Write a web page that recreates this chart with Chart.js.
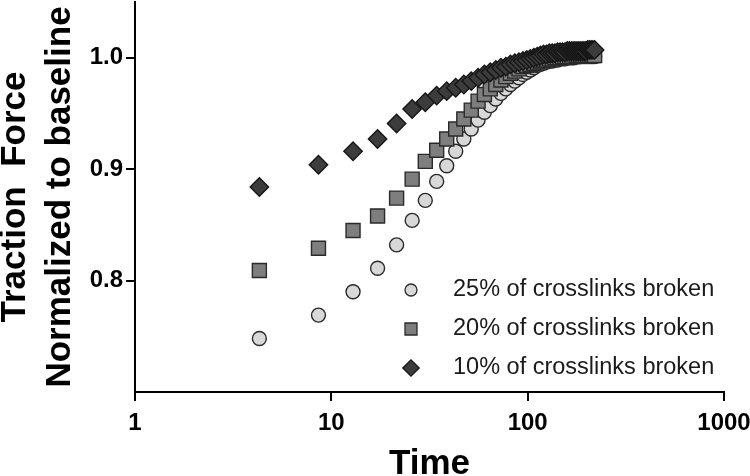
<!DOCTYPE html>
<html>
<head>
<meta charset="utf-8">
<script src="https://cdn.jsdelivr.net/npm/chart.js@4/dist/chart.umd.min.js"></script>
<style>
  html, body { margin: 0; padding: 0; background: #ffffff; }
  #wrap { width: 750px; height: 476px; position: relative; }
</style>
</head>
<body>
<div id="wrap"><canvas id="c" width="750" height="476"></canvas></div>
<script>
// ---- data ----
const timeValues = [4.3, 8.6, 12.9, 17.2, 21.5, 25.8, 30.1, 34.4, 38.7, 43.0,
  47.3, 51.6, 55.9, 60.2, 64.5, 68.8, 73.1, 77.4, 81.7, 86.0,
  90.3, 94.6, 98.9, 103.2, 107.5, 111.8, 116.1, 120.4, 124.7, 129.0,
  133.3, 137.6, 141.9, 146.2, 150.5, 154.8, 159.1, 163.4, 167.7, 172.0,
  176.3, 180.6, 184.9, 189.2, 193.5, 197.8, 202.1, 206.4, 210.7, 215.0, 219.3];

const broken25 = [0.748, 0.769, 0.790, 0.811, 0.832, 0.854, 0.872, 0.889, 0.903, 0.916,
  0.927, 0.936, 0.944, 0.951, 0.957, 0.963, 0.968, 0.972, 0.976, 0.979,
  0.982, 0.985, 0.987, 0.989, 0.991, 0.993, 0.994, 0.995, 0.996, 0.997,
  0.997, 0.998, 0.998, 0.999, 0.999, 0.999, 1.000, 1.000, 1.000, 1.000,
  1.001, 1.001, 1.001, 1.001, 1.001, 1.001, 1.001, 1.001, 1.001, 1.001, 1.001];

const broken20 = [0.809, 0.829, 0.845, 0.858, 0.874, 0.891, 0.907, 0.917, 0.927, 0.936,
  0.945, 0.953, 0.961, 0.967, 0.972, 0.976, 0.980, 0.983, 0.986, 0.988,
  0.990, 0.992, 0.993, 0.994, 0.995, 0.996, 0.997, 0.998, 0.998, 0.999,
  0.999, 1.000, 1.000, 1.000, 1.001, 1.001, 1.001, 1.001, 1.001, 1.001,
  1.002, 1.002, 1.002, 1.002, 1.002, 1.002, 1.002, 1.002, 1.002, 1.002, 1.002];

const broken10 = [0.884, 0.904, 0.916, 0.927, 0.941, 0.954, 0.960, 0.966, 0.970, 0.973,
  0.976, 0.979, 0.982, 0.985, 0.987, 0.989, 0.991, 0.992, 0.994, 0.995,
  0.996, 0.997, 0.998, 0.999, 1.000, 1.001, 1.002, 1.003, 1.003, 1.004,
  1.004, 1.004, 1.005, 1.005, 1.005, 1.005, 1.006, 1.006, 1.006, 1.006,
  1.006, 1.006, 1.006, 1.006, 1.006, 1.006, 1.007, 1.007, 1.007, 1.007, 1.007];

const seriesLabels = ['25% of crosslinks broken', '20% of crosslinks broken', '10% of crosslinks broken'];
const xTickValues = [1, 10, 100, 1000];
const yTickValues = [0.8, 0.9, 1.0];
const yTitleLines = ['Traction  Force', 'Normalized to baseline'];
const xTitle = 'Time';

// ---- build chart ----
const FONT = "'Liberation Sans', Arial, Helvetica, sans-serif";
function pts(ys) { return ys.map((y, i) => ({ x: timeValues[i], y: y })); }

const datasets = [
  { label: seriesLabels[0], data: pts(broken25), pointStyle: 'circle', pointRadius: 7,
    backgroundColor: '#d8d8d8', borderColor: '#2a2a2a', borderWidth: 1.4, order: 3 },
  { label: seriesLabels[1], data: pts(broken20), pointStyle: 'rect', pointRadius: 9.9,
    backgroundColor: '#7e7e7e', borderColor: '#2a2a2a', borderWidth: 1.4, order: 2 },
  { label: seriesLabels[2], data: pts(broken10), pointStyle: 'rectRot', pointRadius: 9.2,
    backgroundColor: '#3c3c3c', borderColor: '#161616', borderWidth: 1.4, order: 1 }
];
datasets.forEach(d => { d.pointHoverRadius = d.pointRadius; d.showLine = false; });

const legendSizes = [6, 8.5, 8.2];

const legendPlugin = {
  id: 'insideLegend',
  afterDraw(chart) {
    const ctx = chart.ctx;
    const rowY = [290, 329, 368];
    const mx = 411, tx = 453;
    chart.data.datasets.forEach((ds, i) => {
      ctx.save();
      ctx.fillStyle = ds.backgroundColor;
      ctx.strokeStyle = ds.borderColor;
      ctx.lineWidth = 1.3;
      Chart.helpers.drawPoint(ctx, { pointStyle: ds.pointStyle, radius: legendSizes[i], rotation: 0, borderWidth: 1.3 }, mx, rowY[i]);
      ctx.fillStyle = '#1a1a1a';
      ctx.font = '23.5px ' + FONT;
      ctx.textAlign = 'left';
      ctx.textBaseline = 'middle';
      ctx.fillText(ds.label, tx, rowY[i]);
      ctx.restore();
    });
  }
};

new Chart(document.getElementById('c'), {
  type: 'scatter',
  data: { datasets: datasets },
  plugins: [legendPlugin],
  options: {
    responsive: false,
    animation: false,
    events: [],
    layout: { autoPadding: false, padding: { left: 0, right: 26, top: 2, bottom: 0 } },
    plugins: { legend: { display: false }, tooltip: { enabled: false } },
    scales: {
      x: {
        type: 'logarithmic',
        min: 1, max: 1000,
        afterBuildTicks(scale) { scale.ticks = xTickValues.map(v => ({ value: v })); },
        afterFit(scale) { scale.height = 84; scale.paddingLeft = 0; scale.paddingRight = 0; },
        ticks: {
          autoSkip: false, maxRotation: 0, padding: 8, color: '#000',
          font: { family: FONT, size: 24, weight: 'bold' },
          callback: (v) => String(v)
        },
        grid: { drawOnChartArea: false, drawTicks: true, tickLength: 9, color: '#000', lineWidth: 2 },
        border: { display: true, color: '#000', width: 2 },
        title: { display: true, text: xTitle, color: '#000',
          font: { family: FONT, size: 35, weight: 'bold', lineHeight: 1.2 },
          padding: { top: 0, bottom: -9 } }
      },
      y: {
        type: 'linear',
        min: 0.70, max: 1.05,
        afterBuildTicks(scale) { scale.ticks = yTickValues.map(v => ({ value: v })); },
        afterFit(scale) { scale.width = 135; scale.paddingTop = 0; scale.paddingBottom = 0; },
        ticks: {
          padding: 3, color: '#000',
          font: { family: FONT, size: 24, weight: 'bold' },
          callback: (v) => Number(v).toFixed(1)
        },
        grid: { drawOnChartArea: false, drawTicks: true, tickLength: 9, color: '#000', lineWidth: 2 },
        border: { display: true, color: '#000', width: 2 },
        title: { display: true, text: yTitleLines, color: '#000',
          font: { family: FONT, size: 35, weight: 'bold', lineHeight: 1.29 },
          padding: { top: -7.5, bottom: 0 } }
      }
    }
  }
});
</script>
</body>
</html>
